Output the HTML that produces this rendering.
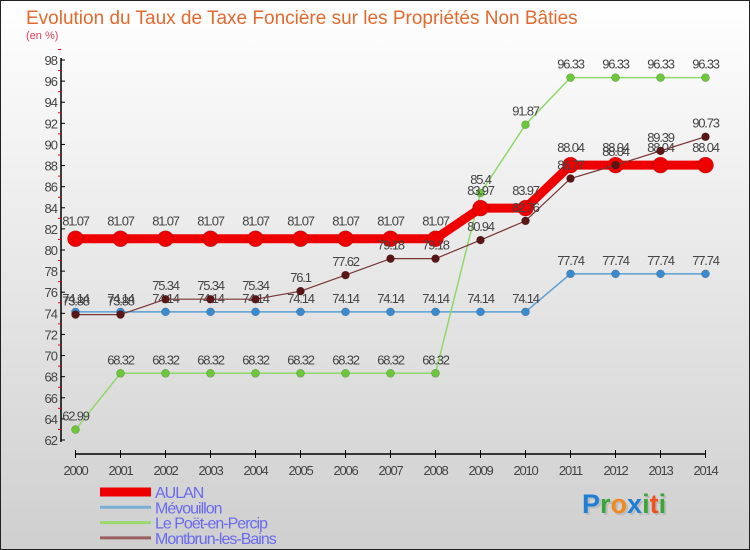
<!DOCTYPE html>
<html><head><meta charset="utf-8"><style>
body{margin:0}
#c{width:750px;height:550px;position:relative;overflow:hidden}
svg text{font-family:"Liberation Sans",sans-serif}
</style></head><body>
<div id="c">
<svg id="s" width="750" height="550" xmlns="http://www.w3.org/2000/svg">
<defs><linearGradient id="bg" x1="0" y1="0" x2="0" y2="1"><stop offset="0" stop-color="#ffffff"/><stop offset="1" stop-color="#cfcfcf"/></linearGradient></defs>
<rect x="0.5" y="0.5" width="749" height="549" fill="url(#bg)" stroke="#222"/>
<text x="26" y="24" font-size="19" fill="#e4692e">Evolution du Taux de Taxe Foncière sur les Propriétés Non Bâties</text>
<text x="26" y="39" font-size="11" fill="#d9405a">(en %)</text>
<g id="axes"></g><g id="series"></g><g id="legend"></g>
<g font-size="27" font-weight="bold">
<text x="584" y="515" fill="#bbb">Proxiti</text>
<text x="582" y="513"><tspan fill="#1f7fd6">P</tspan><tspan fill="#3aa53a">r</tspan><tspan fill="#f08a20">o</tspan><tspan fill="#1f7fd6">x</tspan><tspan fill="#3aa53a">i</tspan><tspan fill="#f05020">t</tspan><tspan fill="#3aa53a">i</tspan></text>
</g>
</svg></div>
<script>
const years=[2000,2001,2002,2003,2004,2005,2006,2007,2008,2009,2010,2011,2012,2013,2014];
const aulan=[81.07,81.07,81.07,81.07,81.07,81.07,81.07,81.07,81.07,83.97,83.97,88.04,88.04,88.04,88.04];
const mevouillon=[74.14,74.14,74.14,74.14,74.14,74.14,74.14,74.14,74.14,74.14,74.14,77.74,77.74,77.74,77.74];
const poet=[62.99,68.32,68.32,68.32,68.32,68.32,68.32,68.32,68.32,85.4,91.87,96.33,96.33,96.33,96.33];
const montbrun=[73.88,73.88,75.34,75.34,75.34,76.1,77.62,79.18,79.18,80.94,82.76,86.77,88.04,89.39,90.73];
const yTicks=[62,64,66,68,70,72,74,76,78,80,82,84,86,88,90,92,94,96,98];
const names=["AULAN","Mévouillon","Le Poët-en-Percip","Montbrun-les-Bains"];
const NS="http://www.w3.org/2000/svg";
const X=i=>75.5+i*(705.5-75.5)/(years.length-1);
const Y=v=>440-(v-62)*(380/36);
function mk(t,a,p){const e=document.createElementNS(NS,t);for(const k in a)e.setAttribute(k,a[k]);p.appendChild(e);return e;}
const ax=document.getElementById('axes');
let e=mk('line',{x1:61,y1:58,x2:61,y2:442,stroke:'#000','stroke-width':1.5},ax);


e=mk('line',{x1:75,y1:454,x2:706,y2:454,stroke:'#000','stroke-width':1.5},ax);


yTicks.forEach(v=>{
 mk('line',{x1:61,y1:Y(v),x2:65,y2:Y(v),stroke:'#000'},ax);
 mk('line',{x1:58,y1:Y(v+1),x2:61,y2:Y(v+1),stroke:'#e00'},ax);
 const t=mk('text',{x:57,y:Y(v)+5,'text-anchor':'end','font-size':13,fill:'#444','letter-spacing':'-1'},ax);
 t.textContent=v;
 
 
});
years.forEach((yr,i)=>{
 mk('line',{x1:X(i),y1:450,x2:X(i),y2:458,stroke:'#000'},ax);
 const t=mk('text',{x:X(i),y:475,'text-anchor':'middle','font-size':13,fill:'#444','letter-spacing':'-1.2'},ax);
 t.textContent=yr;
 
 
});
const sg=document.getElementById('series');
const specs=[[poet,'#8fd86a','#6cc83a',1.5,4,'series-le-poet-en-percip'],[mevouillon,'#5a9fd4','#3a8ad0',1.5,4,'series-mevouillon'],[montbrun,'#7a3535','#5a1515',1.2,4,'series-montbrun-les-bains'],[aulan,'#ee0000','#ee0000',9,8,'series-aulan']];
const order=[specs[1],specs[0],specs[3],specs[2]];
order.forEach(([d,lc,pc,w,r,nm])=>{
 const g=mk('g',{},sg);
 
 
 const p=mk('polyline',{points:d.map((v,i)=>X(i)+','+Y(v)).join(' '),fill:'none',stroke:lc,'stroke-width':w,'stroke-linejoin':'round'},g);
 
 
 d.forEach((v,i)=>{
  const c=mk('circle',{cx:X(i),cy:Y(v),r:r,fill:pc,stroke:'rgba(0,0,0,0.25)','stroke-width':0.6},g);
  
  
  const t=mk('text',{x:X(i),y:Y(v)-(r+5),'text-anchor':'middle','font-size':13,fill:'#444','letter-spacing':'-1.2'},g);
  t.textContent=v;
  
  
 });
});
const lg=document.getElementById('legend');
const lcol=['#ee0000','#7aaed4','#98d870','#9a6060'],lw=[9,3,3,3];
names.forEach((n,i)=>{
 const y=492+i*15.3;
 const l=mk('line',{x1:100,y1:y,x2:151,y2:y,stroke:lcol[i],'stroke-width':lw[i]},lg);
 
 
 const t=mk('text',{x:155,y:y+6,'font-size':16,fill:'#6a6af0','letter-spacing':'-1'},lg);
 t.textContent=n;
 
 
});
</script>
</body></html>
